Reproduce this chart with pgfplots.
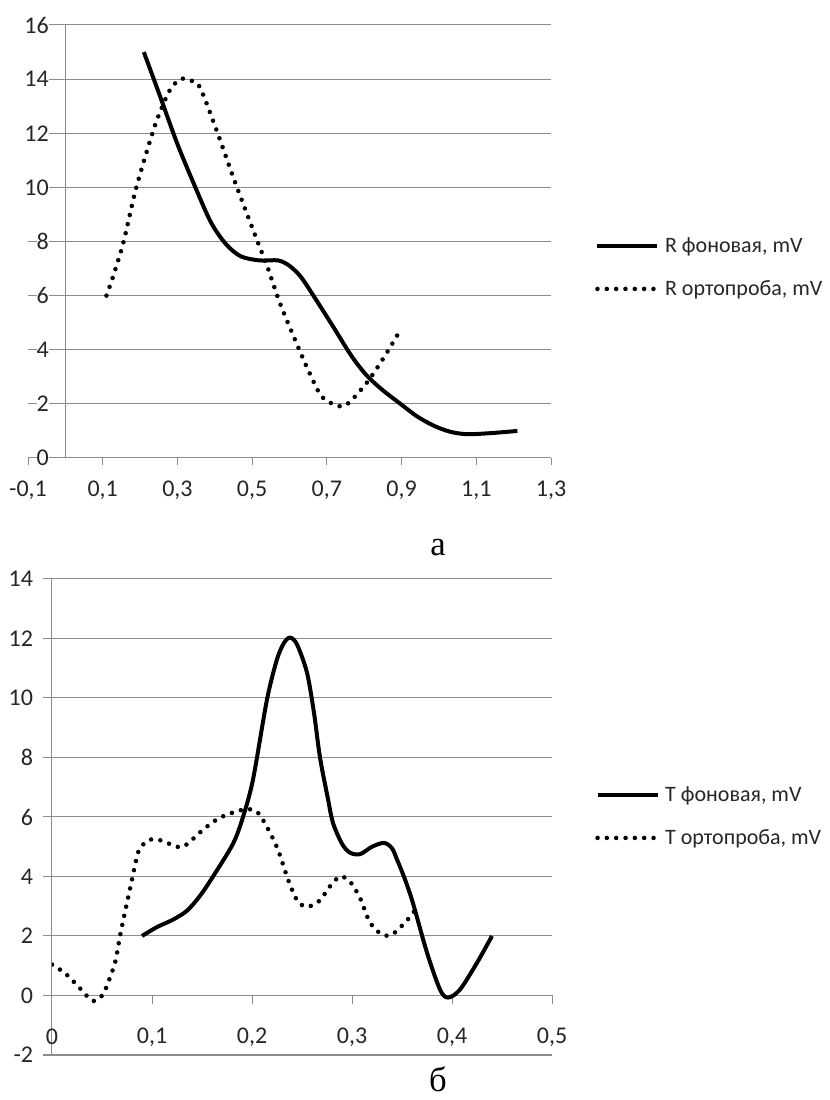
\documentclass[border=0pt]{standalone}
\usepackage{fontspec}
\setmainfont{Carlito}
\newfontfamily\capfont{Liberation Serif}
\usepackage{pgfplots}
\pgfplotsset{compat=1.18}
\definecolor{gridgray}{HTML}{8C8C8C}
\newcommand\tickfont{\fontsize{18}{21}\selectfont}
\newcommand\legfont{\fontsize{16.5}{20}\selectfont}
\begin{document}
\begin{tikzpicture}
\path[use as bounding box] (0,0) rectangle (621.75pt,825pt);
\pgfplotsset{
  solidR/.style={black, line width=3pt, smooth, tension=0.5, line join=round},
  dotR/.style={black, line width=3.4pt, line cap=round, dash pattern=on 0pt off 7pt, smooth, tension=0.5},
  legend image code/.code={\draw[#1] (0pt,0pt) -- (45pt,0pt);},
}
% ---------- top chart (a) ----------
\begin{axis}[
  at={(21pt,481.5pt)}, anchor=south west,
  scale only axis, width=392.25pt, height=324.75pt,
  xmin=-0.1, xmax=1.3, ymin=0, ymax=16,
  axis x line*=bottom, axis y line*=left,
  axis line style={-},
  x axis line style={gridgray, line width=0.75pt},
  y axis line style={draw=none},
  xtick={-0.1,0.1,0.3,0.5,0.7,0.9,1.1,1.3},
  xticklabels={{-0,1},{0,1},{0,3},{0,5},{0,7},{0,9},{1,1},{1,3}},
  ytick={0,2,4,6,8,10,12,14,16},
  yticklabels={0,2,4,6,8,10,12,14,16},
  ymajorgrids, grid style={gridgray, line width=0.75pt},
  tick align=outside, major tick length=5.25pt,
  xtick style={gridgray, line width=0.75pt},
  ytick style={draw=none},
  xticklabel style={anchor=center, yshift=-18.75pt, font=\tickfont, text=black!85},
  yticklabel style={anchor=east, xshift=21pt, fill=white, inner xsep=0pt, inner ysep=1pt, font=\tickfont, text=black!85},
  legend style={at={(1.084,0.44)}, anchor=west, draw=none, fill=none, inner sep=0pt,
    row sep=15.5pt, column sep=2pt, font=\legfont, text=black!85},
  legend cell align=left,
]
\draw[gridgray, line width=0.75pt] (axis cs:0,0) -- (axis cs:0,16);
\addplot[solidR] coordinates {
(0.21,15.0) (0.25,13.5) (0.30,11.6) (0.348,10.0) (0.39,8.7)
(0.43,7.9) (0.47,7.45) (0.52,7.3) (0.57,7.3) (0.60,7.1) (0.63,6.7)
(0.664,6.0) (0.717,4.85) (0.755,4.0) (0.78,3.5) (0.81,3.0) (0.85,2.5) (0.897,2.0) (0.94,1.55)
(0.985,1.2) (1.03,0.97) (1.075,0.88) (1.14,0.92) (1.21,1.0)
};
\addlegendentry{R фоновая, mV}
\addplot[dotR] coordinates {
(0.11,6.0) (0.13,6.8) (0.156,8.0) (0.19,10.0) (0.233,12.0) (0.254,12.8)
(0.28,13.6) (0.308,14.0) (0.335,13.95) (0.36,13.7) (0.405,12.1) (0.454,10.2)
(0.513,8.05) (0.54,7.1) (0.575,5.7) (0.624,4.07) (0.656,3.07) (0.687,2.26)
(0.731,1.92) (0.758,2.03) (0.808,2.8) (0.852,3.7) (0.90,4.8)
};
\addlegendentry{R ортопроба, mV}
\end{axis}
\node[font=\capfont\fontsize{26}{30}\selectfont, inner sep=0pt] at (328.5pt,414pt) {а};
% ---------- bottom chart (б) ----------
\begin{axis}[
  at={(39pt,33.75pt)}, anchor=south west,
  scale only axis, width=375pt, height=357pt,
  xmin=0, xmax=0.5, ymin=-2, ymax=14,
  axis x line=middle, axis y line=left,
  axis line style={gridgray, -, line width=0.75pt},
  hide obscured x ticks=false,
  xtick={0,0.1,0.2,0.3,0.4,0.5},
  xticklabels={0,{0,1},{0,2},{0,3},{0,4},{0,5}},
  ytick={-2,0,2,4,6,8,10,12,14},
  yticklabels={-2,0,2,4,6,8,10,12,14},
  ymajorgrids, grid style={gridgray, line width=0.75pt},
  tick align=outside, major tick length=6.5pt,
  tick style={gridgray, line width=0.75pt},
  xticklabel style={anchor=center, yshift=-24.75pt, font=\tickfont, text=black!85},
  yticklabel style={anchor=east, xshift=-7.5pt, inner xsep=0pt, font=\tickfont, text=black!85},
  legend style={at={(1.086,0.501)}, anchor=west, draw=none, fill=none, inner sep=0pt,
    row sep=15.5pt, column sep=2pt, font=\legfont, text=black!85},
  legend cell align=left,
]
\addplot[solidR] coordinates {
(0.09,2.0) (0.105,2.3) (0.121,2.55) (0.135,2.85) (0.148,3.35) (0.161,4.0)
(0.181,5.1) (0.191,6.0) (0.201,7.26) (0.215,9.95) (0.225,11.3) (0.232,11.85)
(0.238,12.03) (0.245,11.8) (0.255,10.85) (0.262,9.5) (0.268,8.0) (0.276,6.6)
(0.281,5.8) (0.29,5.1) (0.298,4.8) (0.308,4.75) (0.32,5.0) (0.332,5.13)
(0.34,4.95) (0.345,4.57) (0.353,3.9) (0.361,3.1) (0.375,1.44) (0.388,0.2)
(0.396,-0.07) (0.408,0.2) (0.425,1.1) (0.44,2.0)
};
\addlegendentry{T фоновая, mV}
\addplot[dotR] coordinates {
(0.00,1.04) (0.013,0.75) (0.025,0.35) (0.04,-0.17) (0.048,-0.07) (0.053,0.17)
(0.063,1.1) (0.068,2.0) (0.074,2.96) (0.08,3.9) (0.086,4.8) (0.091,5.07)
(0.098,5.24) (0.106,5.24) (0.115,5.13) (0.125,5.0) (0.131,5.0) (0.138,5.17)
(0.151,5.57) (0.166,5.94) (0.181,6.15) (0.196,6.27) (0.206,6.14) (0.216,5.6)
(0.226,4.9) (0.236,3.9) (0.245,3.2) (0.252,3.0) (0.258,3.0) (0.268,3.2)
(0.278,3.67) (0.288,4.0) (0.298,3.83) (0.308,3.28) (0.318,2.45) (0.33,2.05)
(0.34,2.05) (0.353,2.45) (0.364,2.9)
};
\addlegendentry{T ортопроба, mV}
\end{axis}
\node[font=\capfont\fontsize{26}{30}\selectfont, inner sep=0pt, anchor=base] at (328.5pt,6.5pt) {б};
\end{tikzpicture}
\end{document}
